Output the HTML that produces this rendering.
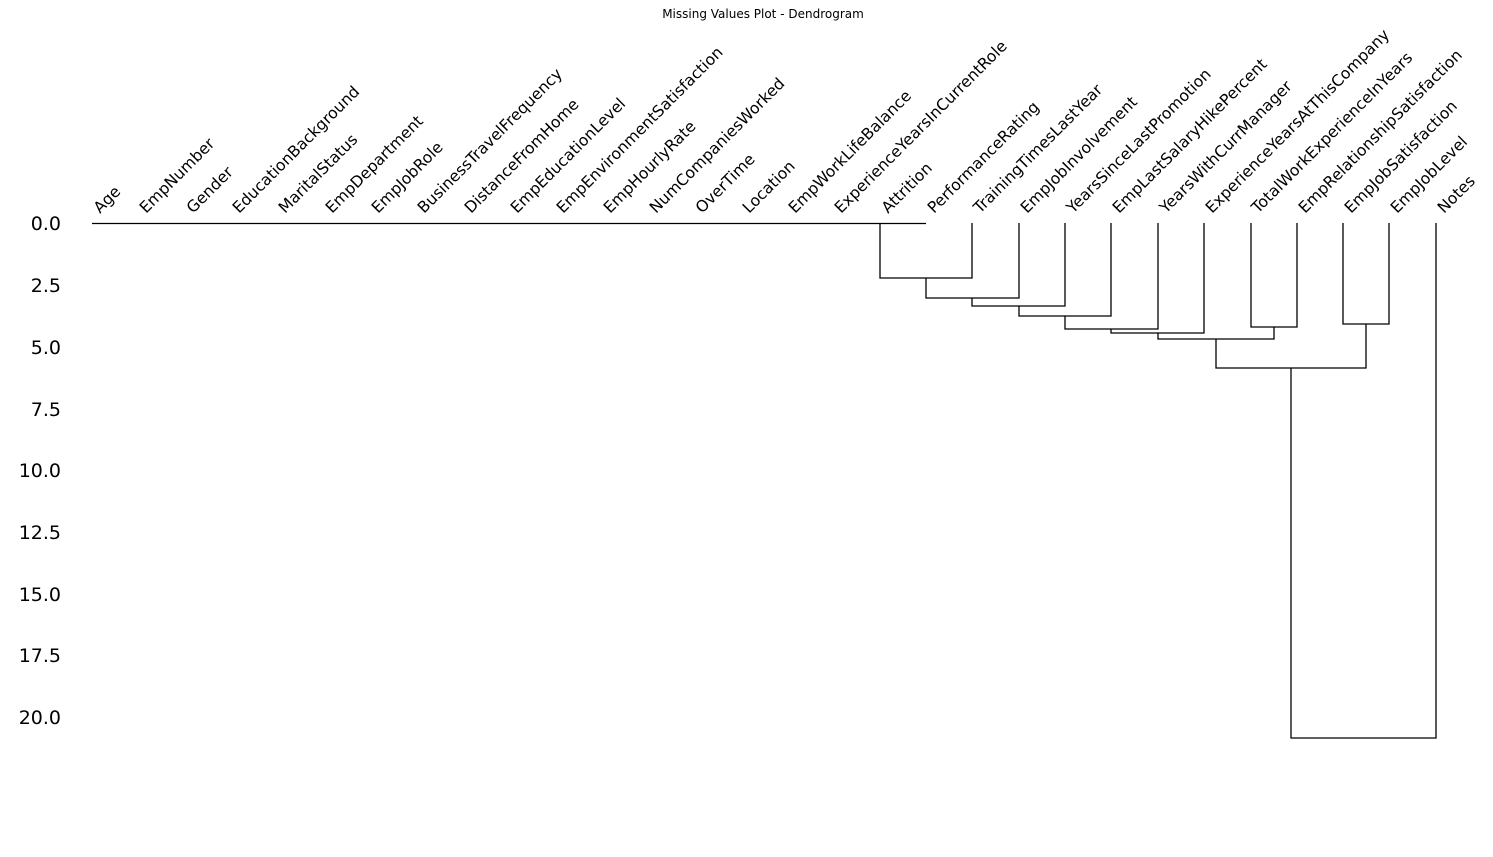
<!DOCTYPE html>
<html><head><meta charset="utf-8"><style>
html,body{margin:0;padding:0;background:#fff;}
svg{display:block;font-family:"DejaVu Sans","Liberation Sans",sans-serif;}
</style></head><body>
<svg width="1493" height="857" viewBox="0 0 1493 857" xmlns="http://www.w3.org/2000/svg">
<text x="763" y="18" font-size="12" text-anchor="middle" fill="#000">Missing Values Plot - Dendrogram</text>
<g font-size="19" text-anchor="end" fill="#000">
<text x="61" y="230">0.0</text>
<text x="61" y="292">2.5</text>
<text x="61" y="354">5.0</text>
<text x="61" y="416">7.5</text>
<text x="61" y="477">10.0</text>
<text x="61" y="539">12.5</text>
<text x="61" y="601">15.0</text>
<text x="61" y="662">17.5</text>
<text x="61" y="724">20.0</text>
</g>
<g font-size="15.7" fill="#000">
<text transform="translate(100,214) rotate(-45)">Age</text>
<text transform="translate(146,214) rotate(-45)">EmpNumber</text>
<text transform="translate(193,214) rotate(-45)">Gender</text>
<text transform="translate(239,214) rotate(-45)">EducationBackground</text>
<text transform="translate(285,214) rotate(-45)">MaritalStatus</text>
<text transform="translate(332,214) rotate(-45)">EmpDepartment</text>
<text transform="translate(378,214) rotate(-45)">EmpJobRole</text>
<text transform="translate(424,214) rotate(-45)">BusinessTravelFrequency</text>
<text transform="translate(471,214) rotate(-45)">DistanceFromHome</text>
<text transform="translate(517,214) rotate(-45)">EmpEducationLevel</text>
<text transform="translate(563,214) rotate(-45)">EmpEnvironmentSatisfaction</text>
<text transform="translate(610,214) rotate(-45)">EmpHourlyRate</text>
<text transform="translate(656,214) rotate(-45)">NumCompaniesWorked</text>
<text transform="translate(702,214) rotate(-45)">OverTime</text>
<text transform="translate(749,214) rotate(-45)">Location</text>
<text transform="translate(795,214) rotate(-45)">EmpWorkLifeBalance</text>
<text transform="translate(841,214) rotate(-45)">ExperienceYearsInCurrentRole</text>
<text transform="translate(888,214) rotate(-45)">Attrition</text>
<text transform="translate(934,214) rotate(-45)">PerformanceRating</text>
<text transform="translate(980,214) rotate(-45)">TrainingTimesLastYear</text>
<text transform="translate(1027,214) rotate(-45)">EmpJobInvolvement</text>
<text transform="translate(1073,214) rotate(-45)">YearsSinceLastPromotion</text>
<text transform="translate(1119,214) rotate(-45)">EmpLastSalaryHikePercent</text>
<text transform="translate(1166,214) rotate(-45)">YearsWithCurrManager</text>
<text transform="translate(1212,214) rotate(-45)">ExperienceYearsAtThisCompany</text>
<text transform="translate(1258,214) rotate(-45)">TotalWorkExperienceInYears</text>
<text transform="translate(1305,214) rotate(-45)">EmpRelationshipSatisfaction</text>
<text transform="translate(1351,214) rotate(-45)">EmpJobSatisfaction</text>
<text transform="translate(1397,214) rotate(-45)">EmpJobLevel</text>
<text transform="translate(1444,214) rotate(-45)">Notes</text>
</g>
<g stroke="#000" stroke-width="1.3" fill="none">
<path d="M92 223.5H926"/>
<path d="M880 223V278H972V223"/>
<path d="M926 278V298H1019V223"/>
<path d="M972 298V306H1065V223"/>
<path d="M1019 306V316H1111V223"/>
<path d="M1065 316V329H1158V223"/>
<path d="M1111 329V333H1204V223"/>
<path d="M1251 223V327H1297V223"/>
<path d="M1158 333V339H1274V327"/>
<path d="M1343 223V324H1389V223"/>
<path d="M1216 339V368H1366V324"/>
<path d="M1291 368V738H1436V223"/>
</g>
</svg>
</body></html>
